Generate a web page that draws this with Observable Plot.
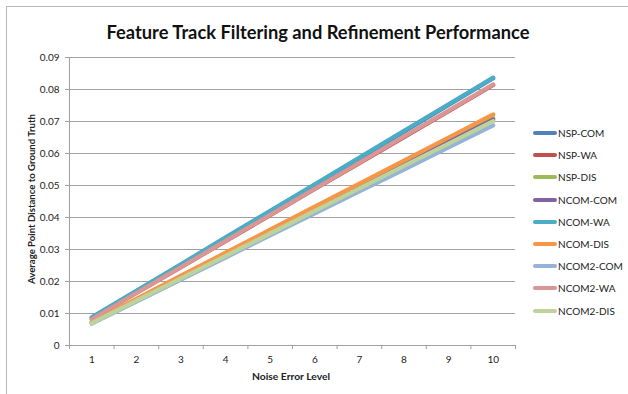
<!DOCTYPE html>
<html>
<head>
<meta charset="utf-8">
<script src="https://cdn.jsdelivr.net/npm/d3@7"></script>
<script src="https://cdn.jsdelivr.net/npm/@observablehq/plot@0.6"></script>
<style>
  html, body { margin: 0; padding: 0; background: #fff; }
  #wrap { position: relative; width: 628px; height: 394px; overflow: hidden; font-family: Lato, "Open Sans", sans-serif; color: #222; }
  #border { position: absolute; left: 6px; top: 6px; width: 700px; height: 500px; border-left: 1px solid #b8b8b8; border-top: 1px solid #b8b8b8; }
  #title { position: absolute; left: 0; width: 636px; top: 21px; text-align: center; font-weight: bold; font-size: 18.3px; color: #111; }
  #ytitle { position: absolute; left: 31px; top: 199px; transform: translate(-50%, -50%) rotate(-90deg); white-space: nowrap; font-weight: bold; font-size: 9.6px; }
  #xtitle { position: absolute; left: 291px; top: 376px; transform: translate(-50%, -50%); white-space: nowrap; font-weight: bold; font-size: 10.3px; }
  #chart { position: absolute; left: 0; top: 0; }
  #legend { position: absolute; left: 533px; top: 122px; font-size: 10px; }
  .li { height: 22.2px; display: flex; align-items: center; }
  .sw { width: 24px; height: 4px; border-radius: 2px; margin-right: 1px; }
</style>
</head>
<body>
<div id="wrap">
  <div id="border"></div>
  <div id="chart"></div>
  <div id="title">Feature Track Filtering and Refinement Performance</div>
  <div id="ytitle">Average Point Distance to Ground Truth</div>
  <div id="xtitle">Noise Error Level</div>
  <div id="legend"></div>
</div>
<script>
const levels = [1, 2, 3, 4, 5, 6, 7, 8, 9, 10];
const seriesNames = ["NSP-COM", "NSP-WA", "NSP-DIS", "NCOM-COM", "NCOM-WA", "NCOM-DIS", "NCOM2-COM", "NCOM2-WA", "NCOM2-DIS"];
const seriesColors = ["#4F81BD", "#C0504D", "#9BBB59", "#8064A2", "#4BACC6", "#F79646", "#95B3D7", "#D99694", "#BDD39A"];

const nspCom   = [0.0087, 0.0170, 0.0253, 0.0336, 0.0419, 0.0502, 0.0585, 0.0668, 0.0752, 0.0835];
const nspWa    = [0.0083, 0.0164, 0.0245, 0.0326, 0.0407, 0.0489, 0.0570, 0.0651, 0.0732, 0.0814];
const nspDis   = [0.0071, 0.0142, 0.0213, 0.0284, 0.0355, 0.0427, 0.0498, 0.0569, 0.0640, 0.0711];
const ncomCom  = [0.0072, 0.0142, 0.0213, 0.0283, 0.0354, 0.0424, 0.0495, 0.0565, 0.0636, 0.0706];
const ncomWa   = [0.0088, 0.0171, 0.0254, 0.0338, 0.0421, 0.0504, 0.0587, 0.0671, 0.0754, 0.0837];
const ncomDis  = [0.0074, 0.0146, 0.0218, 0.0290, 0.0362, 0.0434, 0.0506, 0.0578, 0.0650, 0.0722];
const ncom2Com = [0.0068, 0.0137, 0.0206, 0.0275, 0.0344, 0.0413, 0.0482, 0.0550, 0.0619, 0.0688];
const ncom2Wa  = [0.0082, 0.0164, 0.0245, 0.0327, 0.0408, 0.0490, 0.0571, 0.0653, 0.0734, 0.0816];
const ncom2Dis = [0.0070, 0.0140, 0.0210, 0.0280, 0.0350, 0.0421, 0.0491, 0.0561, 0.0631, 0.0701];

const yTicks = [0, 0.01, 0.02, 0.03, 0.04, 0.05, 0.06, 0.07, 0.08, 0.09];
const yTickLabels = ["0", "0.01", "0.02", "0.03", "0.04", "0.05", "0.06", "0.07", "0.08", "0.09"];

const allValues = [nspCom, nspWa, nspDis, ncomCom, ncomWa, ncomDis, ncom2Com, ncom2Wa, ncom2Dis];
const data = [];
seriesNames.forEach((name, i) => {
  levels.forEach((lv, j) => data.push({series: name, level: lv, value: allValues[i][j]}));
});

const bounds = levels.map(l => l - 0.5).concat([levels[levels.length - 1] + 0.5]);
const xDomain = [bounds[0], bounds[bounds.length - 1]];

const plot = Plot.plot({
  width: 628,
  height: 394,
  marginLeft: 69,
  marginRight: 113,
  marginTop: 57,
  marginBottom: 49,
  style: {fontFamily: "Lato, 'Open Sans', sans-serif", fontSize: "10px", color: "#222", background: "transparent"},
  x: {type: "linear", domain: xDomain},
  y: {type: "linear", domain: [0, 0.09]},
  color: {domain: seriesNames, range: seriesColors},
  marks: [
    Plot.ruleY(yTicks.slice(1), {stroke: "#a0a0a0", strokeWidth: 1}),
    Plot.ruleY([0], {stroke: "#a0a0a0", strokeWidth: 1}),
    Plot.ruleX([xDomain[0]], {stroke: "#a0a0a0", strokeWidth: 1}),
    Plot.axisY(yTicks, {tickSize: 4, tickPadding: 6, stroke: "#a0a0a0", fill: "#222", tickFormat: (d, i) => yTickLabels[i], label: null}),
    Plot.axisX(bounds, {tickSize: 4, stroke: "#a0a0a0", tickFormat: () => "", label: null}),
    Plot.axisX(levels, {tickSize: 0, tickPadding: 10, fill: "#222", tickFormat: d => String(d), label: null}),
    Plot.line(data, {x: "level", y: "value", z: "series", stroke: "series", strokeWidth: 4.2, strokeLinecap: "round", strokeLinejoin: "round"})
  ]
});
document.getElementById("chart").appendChild(plot);

const legend = document.getElementById("legend");
seriesNames.forEach((name, i) => {
  const row = document.createElement("div");
  row.className = "li";
  const sw = document.createElement("div");
  sw.className = "sw";
  sw.style.background = seriesColors[i];
  const t = document.createElement("span");
  t.textContent = name;
  row.appendChild(sw);
  row.appendChild(t);
  legend.appendChild(row);
});
</script>
</body>
</html>
